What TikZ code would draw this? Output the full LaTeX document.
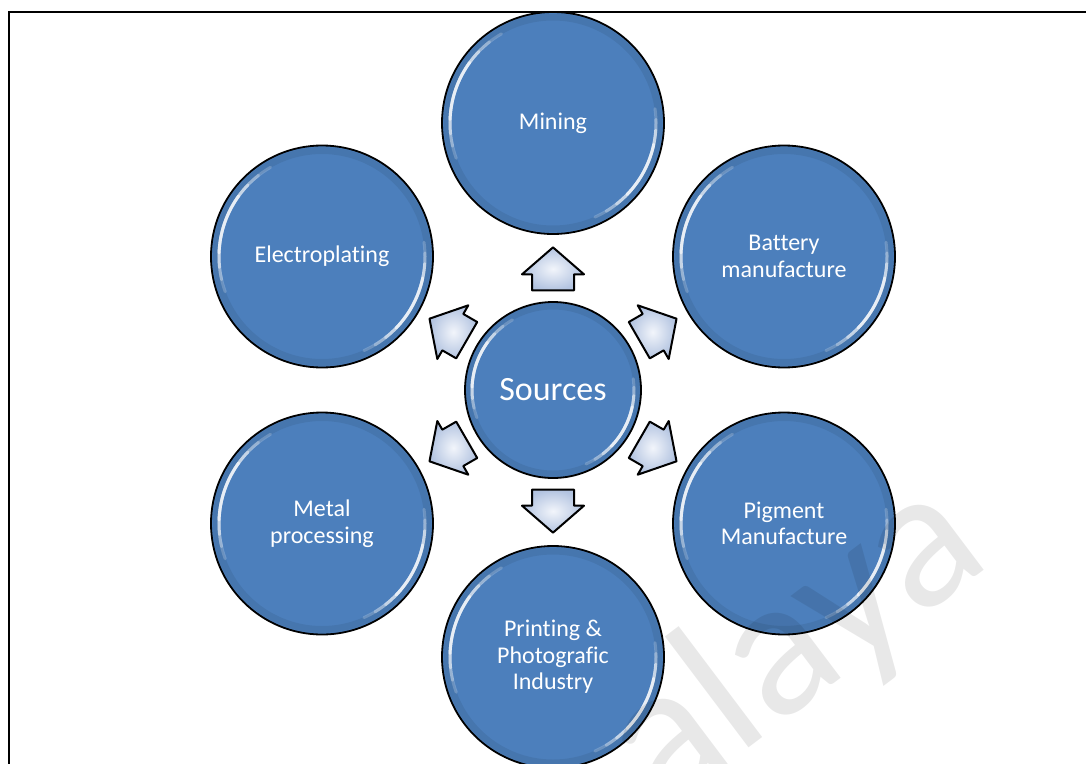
\documentclass[tikz,border=0pt]{standalone}
\usepackage{fontspec}
\setmainfont{Carlito}[Ligatures=NoCommon]
\usetikzlibrary{shapes.arrows}

\definecolor{discblue}{RGB}{76,127,188}
\definecolor{arrowlight}{RGB}{242,245,251}
\definecolor{arrowdark}{RGB}{178,195,224}

\tikzset{
  disc/.style={circle, draw=black, line width=1.8pt, fill=discblue,
    text=white, align=center, inner sep=0pt},
  outer disc/.style={disc, minimum size=222pt,
    font=\fontsize{24}{26.5}\selectfont},
  hub disc/.style={disc, minimum size=176pt,
    font=\fontsize{34}{40}\selectfont},
  flowarrow/.style={single arrow, draw=black, line width=2pt, line join=round,
    inner xsep=0pt, inner ysep=20pt, minimum height=43pt,
    single arrow head extend=10pt, single arrow tip angle=98,
    shading=radial, inner color=arrowlight, outer color=arrowdark},
  gloss/.style={white, line width=3pt, line cap=round},
  rim/.style={black, opacity=0.07, line width=7pt},
  watermark/.style={text=black, text opacity=0.09,
    font=\fontsize{200}{200}\selectfont}
}

% glossy rim highlights on a disc: node name, highlight radius, shadow radius
\newcommand\discgloss[3]{%
  \draw[rim] (#1.center) circle[radius=#3];
  \foreach \s/\e/\o in {120/200/0.2, 128/193/0.3, 136/186/0.45, 144/178/0.6}{
    \draw[gloss, opacity=\o] ([shift={(\s:#2)}]#1.center)
      arc[start angle=\s, end angle=\e, radius=#2];
  }
  \foreach \s/\e/\o in {-66/8/0.2, -59/2/0.3, -52/-4/0.45, -44/-12/0.6}{
    \draw[gloss, opacity=\o] ([shift={(\s:#2)}]#1.center)
      arc[start angle=\s, end angle=\e, radius=#2];
  }
}

\begin{document}
\begin{tikzpicture}[x=1pt, y=-1pt]
  \useasboundingbox (0,0) rectangle (1086,763);
  \clip (0,0) rectangle (1086,763);
  \fill[white] (0,0) rectangle (1086,763);

  % page frame
  \draw[line width=2pt] (9,770) -- (9,12) -- (1090,12);

  % outer ring of sources
  \node[outer disc] (mining)  at (553,123)   {Mining};
  \node[outer disc] (battery) at (784,256.5) {Battery\\manufacture};
  \node[outer disc] (pigment) at (784,523.5) {Pigment\\Manufacture};
  \node[outer disc] (print)   at (553,657)   {Printing \&\\Photografic\\Industry};
  \node[outer disc] (metal)   at (322,523.5) {Metal\\processing};
  \node[outer disc] (electro) at (322,256.5) {Electroplating};

  % hub
  \node[hub disc] (hub) at (553,390) {Sources};

  \foreach \n in {mining,battery,pigment,print,metal,electro}{
    \discgloss{\n}{103pt}{106pt}
  }
  \discgloss{hub}{81pt}{84pt}

  % arrows pointing outward from the hub
  \node[flowarrow, rotate=90]  (a1) at (553,278) {};
  \node[flowarrow, rotate=30]  (a2) at (650,334) {};
  \node[flowarrow, rotate=-30] (a3) at (650,446) {};
  \node[flowarrow, rotate=-90] (a4) at (553,502) {};
  \node[flowarrow, rotate=210] (a5) at (456,446) {};
  \node[flowarrow, rotate=150] (a6) at (456,334) {};

  % watermark
  \node[watermark, rotate=37, anchor=base east] (wm) at (997,561) {alaya};
\end{tikzpicture}
\end{document}
